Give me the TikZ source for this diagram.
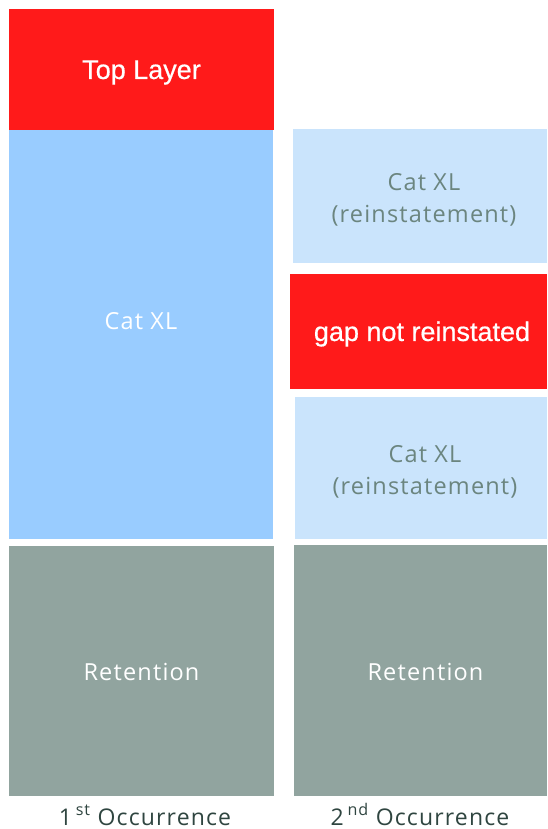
\documentclass[tikz,border=0pt]{standalone}
\usepackage{fontspec}
\setmainfont{Open Sans}
\newfontfamily\humfont[LetterSpace=5]{Open Sans}
\newfontfamily\arialfont[FakeBold=0.6]{Liberation Sans}
\definecolor{topred}{HTML}{FF1A1A}
\definecolor{catblue}{HTML}{99CCFF}
\definecolor{reblue}{HTML}{CAE4FC}
\definecolor{retgray}{HTML}{91A49F}
\definecolor{retext}{HTML}{6B857F}
\definecolor{labtext}{HTML}{2F4540}
\begin{document}
\begin{tikzpicture}[x=1pt,y=-1pt,
  blk/.style={draw=none,inner sep=0pt},
  wtxt/.style={text=white,font=\humfont\fontsize{23.5}{32}\selectfont,align=center},
  gtxt/.style={text=retext,font=\humfont\fontsize{23.5}{32}\selectfont,align=center},
  atxt/.style={text=white,font=\arialfont\fontsize{27}{30}\selectfont},
  labt/.style={text=labtext,font=\humfont\fontsize{23}{28}\selectfont,anchor=base,inner sep=0pt}]
\useasboundingbox[fill=white] (0,0) rectangle (547,829);
% left column
\fill[topred] (9,9) rectangle (274,130);
\fill[catblue] (9,130) rectangle (273,539);
\fill[retgray] (9,546) rectangle (274,796);
% right column
\fill[reblue] (293,129) rectangle (547,263);
\fill[topred] (290,274) rectangle (547,389);
\fill[reblue] (295,397) rectangle (547,539);
\fill[retgray] (294,545) rectangle (547,796);
% texts
\node[atxt] (top) at (141.5,72.5) {Top Layer};
\node[wtxt] (catl) at (141,321) {Cat XL};
\node[wtxt] (retl) at (141.5,672) {Retention};
\node[gtxt] (cat1) at (424,199.5) {Cat XL\\(reinstatement)};
\node[atxt] (gap) at (422,334) {gap not reinstated};
\node[gtxt] (cat2) at (425,472) {Cat XL\\(reinstatement)};
\node[wtxt] (retr) at (425.5,672) {Retention};
\node[labt] (lab1) at (145,825) {1\,\textsuperscript{st} Occurrence};
\node[labt] (lab2) at (420,825) {2\,\textsuperscript{nd} Occurrence};
\end{tikzpicture}
\end{document}
